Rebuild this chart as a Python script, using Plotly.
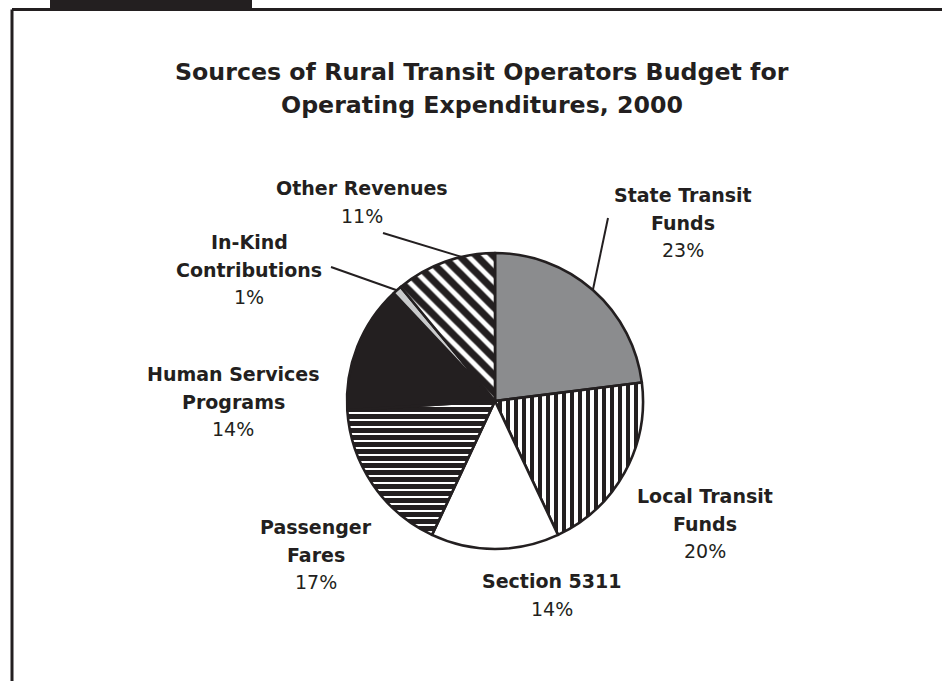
import math
import plotly.graph_objects as go

# Funding sources, clockwise from 12 o'clock
source_lines = [
    ["State Transit", "Funds"],
    ["Local Transit", "Funds"],
    ["Section 5311"],
    ["Passenger", "Fares"],
    ["Human Services", "Programs"],
    ["In-Kind", "Contributions"],
    ["Other Revenues"],
]
shares = [23, 20, 14, 17, 14, 1, 11]

W, H = 942, 681
INK = "#231f20"
CX, CY, R = 495, 401, 148  # pie centre and radius in pixels


def px(x):
    return x / W


def py(y):
    return 1 - y / H


# slice fills
fill_colors = ["#8b8c8e", "white", "white", "white", INK, "#c9cacb", "white"]
pattern_shapes = ["", "|", "", "-", "", "", "\\"]
pattern_sizes = [8, 8, 8, 7, 8, 8, 12]
pattern_solid = [0.3, 0.5, 0.3, 0.72, 0.3, 0.3, 0.6]

fig = go.Figure(
    go.Pie(
        values=shares,
        labels=[" ".join(l) for l in source_lines],
        sort=False,
        direction="clockwise",
        rotation=0,
        textinfo="none",
        hoverinfo="label+percent",
        showlegend=False,
        domain=dict(x=[px(CX - R), px(CX + R)], y=[py(CY + R), py(CY - R)]),
        marker=dict(
            colors=fill_colors,
            line=dict(color=INK, width=2.6),
            pattern=dict(
                shape=pattern_shapes,
                fgcolor=INK,
                bgcolor=fill_colors,
                size=pattern_sizes,
                solidity=pattern_solid,
                fillmode="replace",
            ),
        ),
    )
)

# label block placement (centre x, first-line y) and leader-line settings
label_pos = [(683, 195), (705, 496), (552, 581), (316, 527), (233, 374), (249, 242), (362, 188)]
# (start x, start y, fraction through the slice where the line meets the rim) or None
leaders = [(608, 218, 0.5), None, None, None, None, (331, 267, 0.45), (383, 233, 0.67)]

LINE_GAP = 27.5
total = sum(shares)
cum = 0
for lines, v, (lx, ly), lead in zip(source_lines, shares, label_pos, leaders):
    for k, t in enumerate(lines):
        fig.add_annotation(
            x=px(lx), y=py(ly + k * LINE_GAP), xref="paper", yref="paper",
            text=f"<b>{t}</b>", showarrow=False, xanchor="center", yanchor="middle",
            font=dict(family="DejaVu Sans", size=19, color=INK),
        )
    fig.add_annotation(
        x=px(lx), y=py(ly + len(lines) * LINE_GAP), xref="paper", yref="paper",
        text=f"{round(100 * v / total)}%", showarrow=False, xanchor="center", yanchor="middle",
        font=dict(family="DejaVu Sans", size=19, color=INK),
    )
    if lead is not None:
        sx, sy, frac = lead
        ang = math.radians(360 * (cum + frac * v) / total)
        ex, ey = CX + R * math.sin(ang), CY - R * math.cos(ang)
        fig.add_shape(type="line", xref="paper", yref="paper",
                      x0=px(sx), y0=py(sy), x1=px(ex), y1=py(ey),
                      line=dict(color=INK, width=2))
    cum += v

# title
for k, t in enumerate(["Sources of Rural Transit Operators Budget for",
                       "Operating Expenditures, 2000"]):
    fig.add_annotation(
        x=px(482), y=py(72 + k * 33), xref="paper", yref="paper",
        text=f"<b>{t}</b>", showarrow=False, xanchor="center", yanchor="middle",
        font=dict(family="DejaVu Sans", size=23.7, color=INK),
    )

# exhibit tab and frame
fig.add_shape(type="rect", xref="paper", yref="paper",
              x0=px(50), x1=px(252), y0=py(9), y1=py(-2),
              fillcolor=INK, line=dict(width=0), layer="below")
fig.add_annotation(x=px(151), y=py(7.2), xref="paper", yref="paper",
                   xanchor="center", yanchor="bottom",
                   text="<b>Exhibit 6-55</b>", showarrow=False,
                   font=dict(family="DejaVu Sans", size=20, color="white"))
fig.add_shape(type="line", xref="paper", yref="paper",
              x0=px(12), x1=px(W + 5), y0=py(9.5), y1=py(9.5),
              line=dict(color=INK, width=3))
fig.add_shape(type="line", xref="paper", yref="paper",
              x0=px(12), x1=px(12), y0=py(9.5), y1=py(H + 5),
              line=dict(color=INK, width=3))

fig.update_layout(
    width=W, height=H,
    margin=dict(l=0, r=0, t=0, b=0),
    paper_bgcolor="white", plot_bgcolor="white",
)

fig.write_html("out.html")
